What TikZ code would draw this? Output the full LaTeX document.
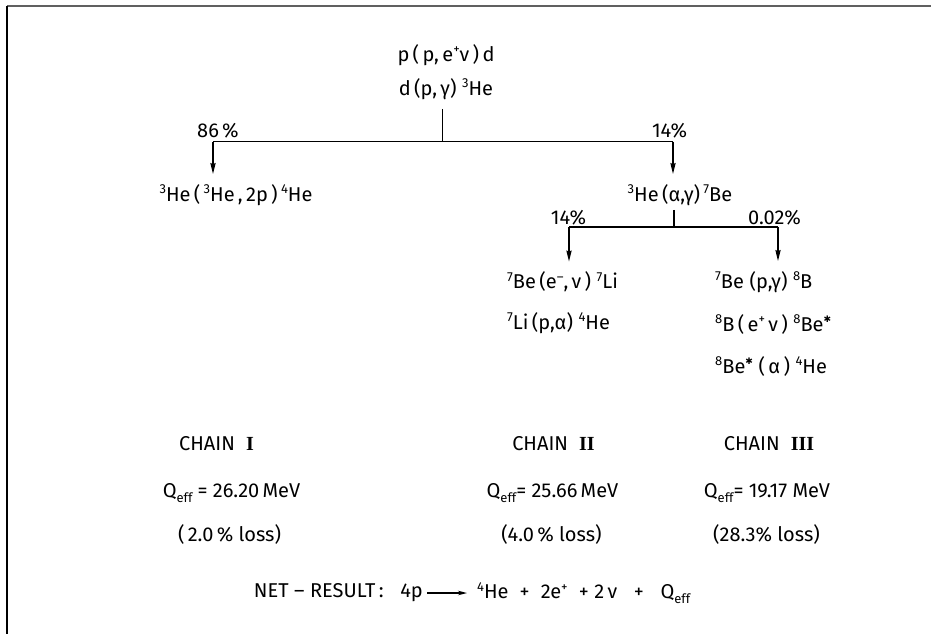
\documentclass[tikz,border=0pt]{standalone}
\usepackage{fontspec}
\setmainfont{Fira Sans}
\newfontfamily\romf{Liberation Serif}
\newfontfamily\djv{DejaVu Sans}
\usetikzlibrary{arrows.meta}
\newcommand\up[1]{\raisebox{7.5pt}{\fontsize{13}{13}\selectfont #1}}
\newcommand\dn[1]{\raisebox{-5pt}{\fontsize{13}{13}\selectfont #1}}
\newcommand\exc{\raisebox{9pt}{\djv\fontsize{9}{9}\selectfont ✱}}
\tikzset{
  txt/.style={inner sep=1pt, font=\fontsize{20}{23}\selectfont},
  bar/.style={line width=1.9pt},
  arr/.style={line width=1.9pt, -{Stealth[length=11pt,width=5pt,inset=1pt]}, shorten >=9pt},
  frame/.style={line width=1.3pt}
}
\begin{document}
\begin{tikzpicture}[x=1pt,y=-1pt]
\useasboundingbox (0,0) rectangle (931,634);
\fill[white] (0,0) rectangle (931,634);
% frame
\coordinate (fTL) at (7,6);
\coordinate (fTR) at (931,6);
\coordinate (fBL) at (7,634);
\draw[frame, gray!75!black] (fTL) -- (fTR);
\draw[frame] (fTL) -- (fBL);

% top reactions
\node[txt] (r1) at (446,55) {p\,(\,p,\,e\up{+}ν\,)\,d};
\node[txt] (r2) at (446,89) {d\,(p,\,γ)\;\up{3}He};

\coordinate (j1) at (442.5,141.5);
\coordinate (jL) at (213,141.5);
\coordinate (jR) at (673,141.5);
\draw[bar] ([yshift=-8pt]r2.south -| j1) -- (j1);
\draw[bar] (jL) -- (jR);

\node[txt] (p86) at (218,131) {86\,\%};
\node[txt] (p14a) at (669.5,131) {14\%};

\node[txt] (t1) at (236,195) {\up{3}He\,(\,\up{3}He\,,\,2p\,)\,\up{4}He};
\node[txt] (t2) at (680,195) {\up{3}He\,(α,γ)\,\up{7}Be};

\draw[arr] (jL) -- (jL |- t1.north);
\draw[arr] (jR) -- (jR |- t2.north);

% second branching
\coordinate (k1) at (674,227);
\coordinate (kL) at (569,227);
\coordinate (kR) at (778,227);
\draw[bar] ([yshift=-3pt]t2.south -| k1) -- (k1);
\draw[bar] (kL) -- (kR);

\node[txt] (p14b) at (568.5,218) {14\%};
\node[txt] (p002) at (774.5,218) {0.02\%};

\node[txt, anchor=west] (c2a) at (506,282) {\up{7}Be\,(e\up{–},\,ν\,)\;\up{7}Li};
\node[txt, anchor=west] (c2b) at (506,323) {\up{7}Li\,(p,α)\;\up{4}He};

\node[txt, anchor=west] (c3a) at (714,282) {\up{7}Be\;(p,γ)\;\up{8}B};
\node[txt, anchor=west] (c3b) at (714,324) {\up{8}B\,(\,e\up{+}\,ν\,)\;\up{8}Be\exc};
\node[txt, anchor=west] (c3c) at (714,366) {\up{8}Be\exc\;(\,α\,)\;\up{4}He};

\draw[arr] (kL) -- (kL |- c2a.north);
\draw[arr] (kR) -- (kR |- c3a.north);

% chains
\node[txt] (ch1) at (216.5,443.5) {CHAIN\;\;{\romf\bfseries I}};
\node[txt] (ch2) at (553.5,443.5) {CHAIN\;\;{\romf\bfseries II}};
\node[txt] (ch3) at (769,443.5) {CHAIN\;\;{\romf\bfseries III}};

\node[txt] (q1) at (231.5,493) {Q\dn{eff} = 26.20\,MeV};
\node[txt] (q2) at (552.5,493) {Q\dn{eff}= 25.66\,MeV};
\node[txt] (q3) at (767,493) {Q\dn{eff}= 19.17 MeV};

\node[txt] (l1) at (229.5,534.5) {(\,2.0\,\% loss)};
\node[txt] (l2) at (551.5,534.5) {(4.0\,\% loss)};
\node[txt] (l3) at (766.5,534.5) {(28.3\% loss)};

% net result
\node[txt, anchor=east] (nl) at (424,593) {NET\;–\;RESULT\,:\;\;\;4p};
\node[txt, anchor=west] (nr) at (476,593) {\up{4}He\;\;+\;\;2e\up{+}\;\;+\;2\,ν\;\;\;+\;\;\;Q\dn{eff}};
\draw[line width=1.4pt, -{Stealth[length=9pt,width=4.5pt]}] ([xshift=3pt]nl.east) -- ([xshift=-9pt]nr.west);
\end{tikzpicture}
\end{document}
